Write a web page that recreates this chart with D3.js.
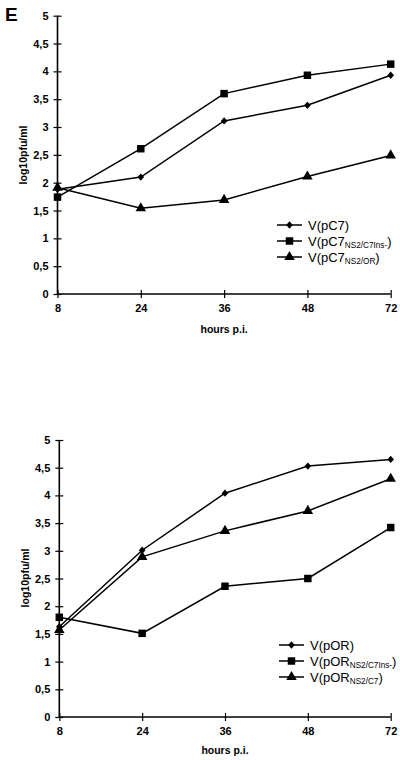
<!DOCTYPE html>
<html><head><meta charset="utf-8">
<script src="https://cdn.jsdelivr.net/npm/d3@7"></script>
<style>body{margin:0;background:#fff}svg{display:block}</style>
</head><body>
<script>
const hours = ["8","24","36","48","72"];
const yTicks = [0,0.5,1,1.5,2,2.5,3,3.5,4,4.5,5];

const topPC7 = [1.88,2.10,3.11,3.39,3.93];
const topPC7Ins = [1.74,2.61,3.60,3.93,4.13];
const topPC7OR = [1.91,1.54,1.69,2.11,2.49];

const botPOR = [1.63,3.01,4.04,4.53,4.65];
const botPORIns = [1.80,1.51,2.36,2.50,3.42];
const botPORC7 = [1.57,2.89,3.36,3.72,4.30];

const topNames = [["V(pC7",""],["V(pC7","NS2/C7Ins-"],["V(pC7","NS2/OR"]];
const botNames = [["V(pOR",""],["V(pOR","NS2/C7Ins-"],["V(pOR","NS2/C7"]];

const W=400,H=760;
const svg=d3.select("body").append("svg").attr("width",W).attr("height",H);
const font="'Liberation Sans', Arial, sans-serif";

svg.append("text").attr("x",5).attr("y",21).attr("font-family",font)
  .attr("font-weight","bold").attr("font-size",19).text("E");

const diamond={draw(ctx,size){const r=Math.sqrt(size)/2;ctx.moveTo(0,-r*1.1);ctx.lineTo(r,0);ctx.lineTo(0,r*1.1);ctx.lineTo(-r,0);ctx.closePath();}};

function panel(cfg){
  const x=d3.scalePoint().domain(hours).range([cfg.x0,cfg.x1]).padding(0);
  const y=d3.scaleLinear().domain([0,5]).range([cfg.y0,cfg.y1]);
  const g=svg.append("g");
  const ya=g.append("g").attr("transform",`translate(${cfg.x0},0)`)
    .call(d3.axisLeft(y).tickValues(yTicks).tickSize(4).tickPadding(5)
      .tickFormat(d=>String(d).replace(".",",")));
  ya.select(".domain").attr("stroke","#000").attr("stroke-width",1.6).attr("d",`M0,${cfg.y0}V${cfg.y1}`);
  ya.selectAll(".tick line").attr("x1",4).attr("stroke-width",1.2);
  ya.selectAll(".tick text").attr("font-family",font).attr("font-weight","bold").attr("font-size",11).attr("fill","#000");
  const xa=g.append("g").attr("transform",`translate(0,${cfg.y0})`)
    .call(d3.axisBottom(x).tickSize(4).tickPadding(6));
  xa.select(".domain").attr("stroke","#000").attr("stroke-width",1.6).attr("d",`M${cfg.x0},0H${cfg.x1}`);
  xa.selectAll(".tick line").attr("y1",-4).attr("stroke-width",1.2);
  xa.selectAll(".tick text").attr("font-family",font).attr("font-weight","bold").attr("font-size",11).attr("fill","#000");
  g.append("text").attr("x",x("36")).attr("y",cfg.y0+cfg.xtOff).attr("text-anchor","middle")
    .attr("font-family",font).attr("font-weight","bold").attr("font-size",10.5).text("hours p.i.");
  g.append("text").attr("transform",`translate(${cfg.ytx},${cfg.ytc}) rotate(-90)`).attr("text-anchor","middle")
    .attr("dy","0.35em").attr("font-family",font).attr("font-weight","bold").attr("font-size",10.5).text("log10pfu/ml");

  const line=d3.line().x((d,i)=>x(hours[i])).y(d=>y(d));
  const shapes=[diamond,d3.symbolSquare,d3.symbolTriangle];
  const sizes=[44,56,48];
  cfg.series.forEach((s,k)=>{
    g.append("path").datum(s).attr("d",line).attr("fill","none").attr("stroke","#000").attr("stroke-width",1.5);
    g.selectAll(null).data(s).enter().append("path")
      .attr("d",d3.symbol().type(shapes[k]).size(sizes[k]))
      .attr("transform",(d,i)=>`translate(${x(hours[i])},${y(d)})`)
      .attr("fill","#000");
  });
  cfg.names.forEach((n,k)=>{
    const ly=cfg.ly[k];
    g.append("line").attr("x1",cfg.lx0).attr("x2",cfg.lx0+25).attr("y1",ly).attr("y2",ly)
      .attr("stroke","#000").attr("stroke-width",1.5);
    g.append("path").attr("d",d3.symbol().type(shapes[k]).size(sizes[k])())
      .attr("transform",`translate(${cfg.lx0+12.5},${ly})`).attr("fill","#000");
    const t=g.append("text").attr("x",cfg.lx0+31).attr("y",ly+4.5).attr("font-family",font).attr("font-size",13);
    t.append("tspan").text(n[0]);
    if(n[1]){
      t.append("tspan").attr("font-size",8.2).attr("dy",2.5).text(n[1]);
      t.append("tspan").attr("dy",-2.5).text(")");
    } else t.append("tspan").text(")");
  });
}

panel({x0:57.5,x1:390.7,y0:294,y1:15.7,ytx:23,ytc:155,xtOff:39,
  series:[topPC7,topPC7Ins,topPC7OR],names:topNames,lx0:277,ly:[225,241,257]});
panel({x0:59.3,x1:390.7,y0:717,y1:440,ytx:25,ytc:578,xtOff:37,
  series:[botPOR,botPORIns,botPORC7],names:botNames,lx0:279,ly:[645,661,677]});
</script>
</body></html>
